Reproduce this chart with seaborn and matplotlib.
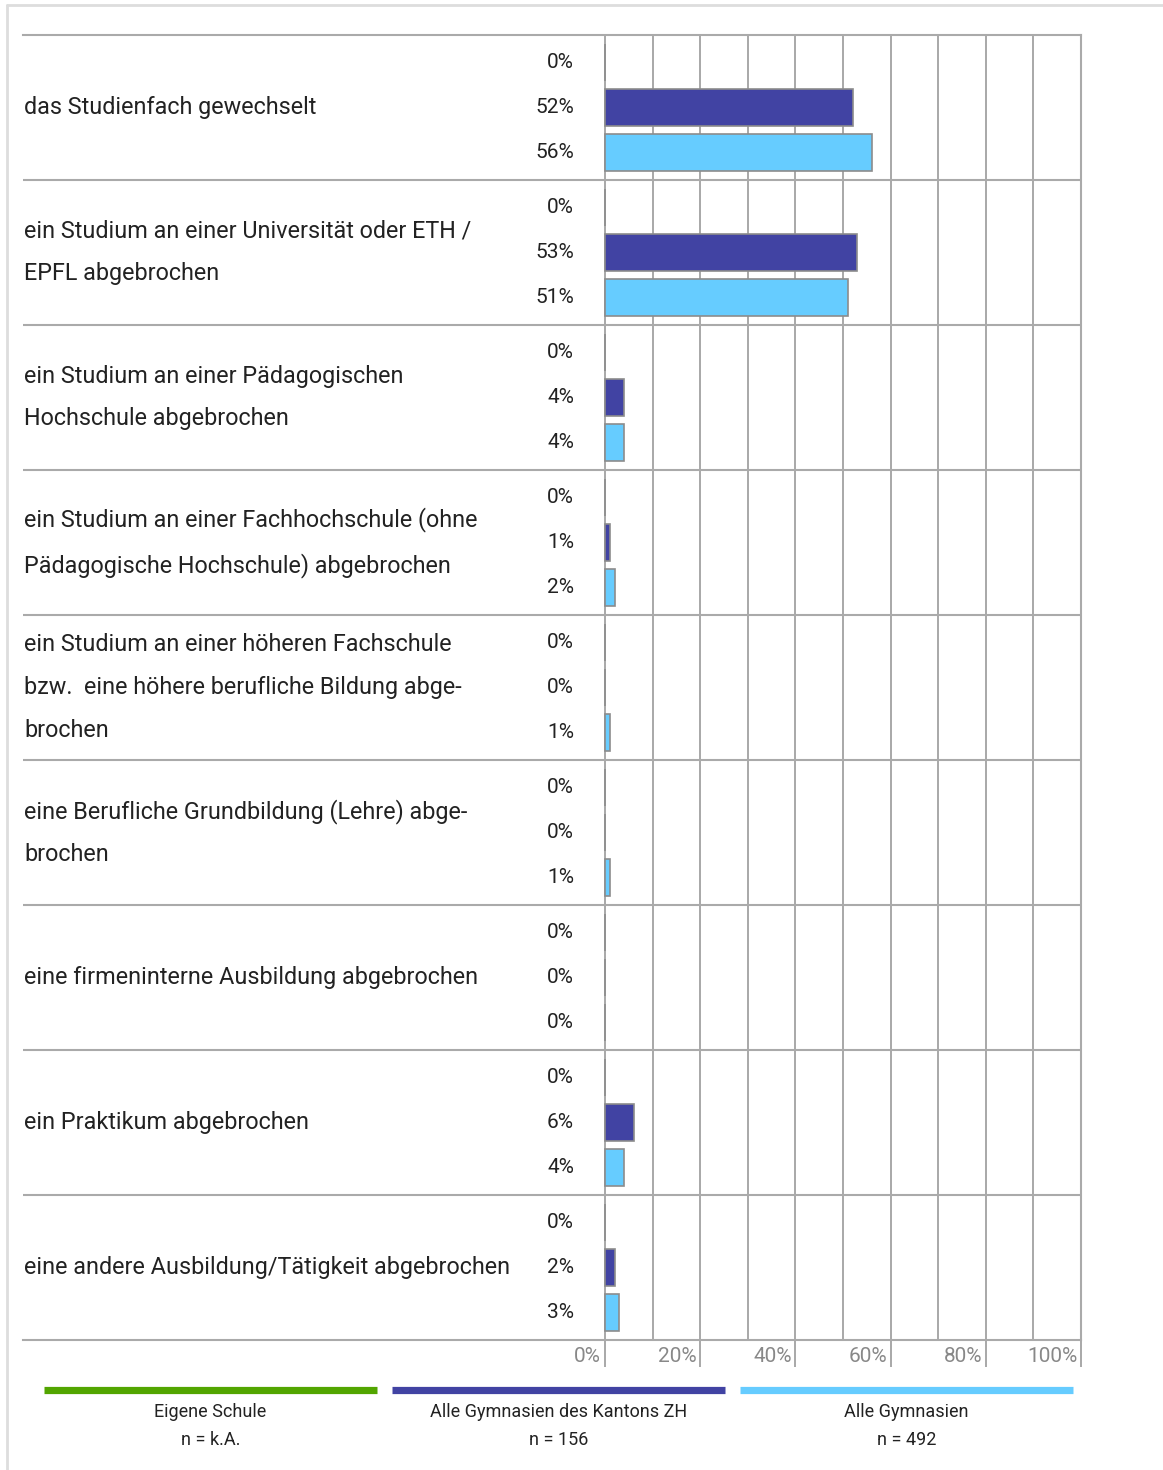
import matplotlib
matplotlib.use('Agg')
import matplotlib.pyplot as plt
from matplotlib.lines import Line2D
import seaborn as sns
import pandas as pd

# data
categories = [
    'das Studienfach gewechselt',
    'ein Studium an einer Universität oder ETH /\nEPFL abgebrochen',
    'ein Studium an einer Pädagogischen\nHochschule abgebrochen',
    'ein Studium an einer Fachhochschule (ohne\nPädagogische Hochschule) abgebrochen',
    'ein Studium an einer höheren Fachschule\nbzw.  eine höhere berufliche Bildung abge-\nbrochen',
    'eine Berufliche Grundbildung (Lehre) abge-\nbrochen',
    'eine firmeninterne Ausbildung abgebrochen',
    'ein Praktikum abgebrochen',
    'eine andere Ausbildung/Tätigkeit abgebrochen',
]
series = ['Eigene Schule', 'Alle Gymnasien des Kantons ZH', 'Alle Gymnasien']
sample_sizes = ['n = k.A.', 'n = 156', 'n = 492']
eigene_schule = [0, 0, 0, 0, 0, 0, 0, 0, 0]
kanton_zh = [52, 53, 4, 1, 0, 0, 0, 6, 2]
alle_gymnasien = [56, 51, 4, 2, 1, 1, 0, 4, 3]
x_ticks = [0, 20, 40, 60, 80, 100]
x_minor = [10, 30, 50, 70, 90]
colors = ['#52a500', '#4143a3', '#66ccff']

W, H = 1163, 1470
sns.set_theme(style='white')
plt.rcParams['font.family'] = ['Roboto', 'DejaVu Sans']

fig = plt.figure(figsize=(W / 100, H / 100), dpi=100)
ax = fig.add_axes([23 / W, 1 - 1340 / H, (1081 - 23) / W, (1340 - 35) / H])

df = pd.DataFrame({
    'label': categories * 3,
    'series': [s for s in series for _ in categories],
    'value': eigene_schule + kanton_zh + alle_gymnasien,
})

sns.barplot(data=df, y='label', x='value', hue='series', hue_order=series,
            order=categories, palette=colors, saturation=1, orient='h',
            width=0.93, gap=0.16, edgecolor='#8c8c8c', linewidth=1.2,
            legend=False, ax=ax)

ax.set_xlim(-(605 - 23) / 4.76, 100)
ax.set_ylim(len(categories) - 0.5, -0.5)
ax.set_xlabel('')
ax.set_ylabel('')
ax.set_yticks([])
ax.set_xticks(x_ticks)
ax.set_xticklabels([])
ax.set_xticks(x_minor, minor=True)
ax.set_axisbelow(True)
ax.grid(axis='x', which='both', color='#9a9a9a', lw=1.2)
ax.tick_params(axis='x', which='major', direction='out', length=19.5,
               width=1.2, color='#9a9a9a', bottom=True)
ax.tick_params(axis='x', which='minor', length=0)

ax.spines['left'].set_visible(False)
for s in ['top', 'right', 'bottom']:
    ax.spines[s].set_color('#aaaaaa')
    ax.spines[s].set_linewidth(1.5)

# group separators
for k in range(len(categories) - 1):
    ax.axhline(k + 0.5, color='#aaaaaa', lw=1.5)

# category labels
for i, lab in enumerate(categories):
    ax.text(0.001, i, lab, transform=ax.get_yaxis_transform(), ha='left',
            va='center', fontsize=16.8, linespacing=2.1, color='#222222')

# value labels
for container, vals in zip(ax.containers, [eigene_schule, kanton_zh, alle_gymnasien]):
    for bar, v in zip(container, vals):
        y = bar.get_y() + bar.get_height() / 2
        ax.text(-6.5, y, f'{v}%', ha='right', va='center', fontsize=15,
                color='#222222')

# x tick labels
for t in x_ticks:
    ax.text(t - 0.8, -0.013, f'{t}%', transform=ax.get_xaxis_transform(),
            ha='right', va='center', fontsize=15, color='#888888')

# page frame
fig.add_artist(Line2D([7 / W, 1], [1 - 5 / H, 1 - 5 / H], transform=fig.transFigure,
                      color='#dddddd', lw=2))
fig.add_artist(Line2D([7 / W, 7 / W], [0, 1 - 5 / H], transform=fig.transFigure,
                      color='#dddddd', lw=2))

# legend
for j, (name, n) in enumerate(zip(series, sample_sizes)):
    x0 = 44 + j * 348
    x1 = x0 + 333
    fig.add_artist(Line2D([x0 / W, x1 / W], [1 - 1389.5 / H, 1 - 1389.5 / H],
                          transform=fig.transFigure, color=colors[j], lw=5.2,
                          solid_capstyle='butt'))
    xc = (x0 + x1) / 2 / W
    fig.text(xc, 1 - 1412 / H, name, ha='center', va='center', fontsize=13,
             color='#222222')
    fig.text(xc, 1 - 1440 / H, n, ha='center', va='center', fontsize=13,
             color='#222222')

fig.savefig('out.png', dpi=100)
